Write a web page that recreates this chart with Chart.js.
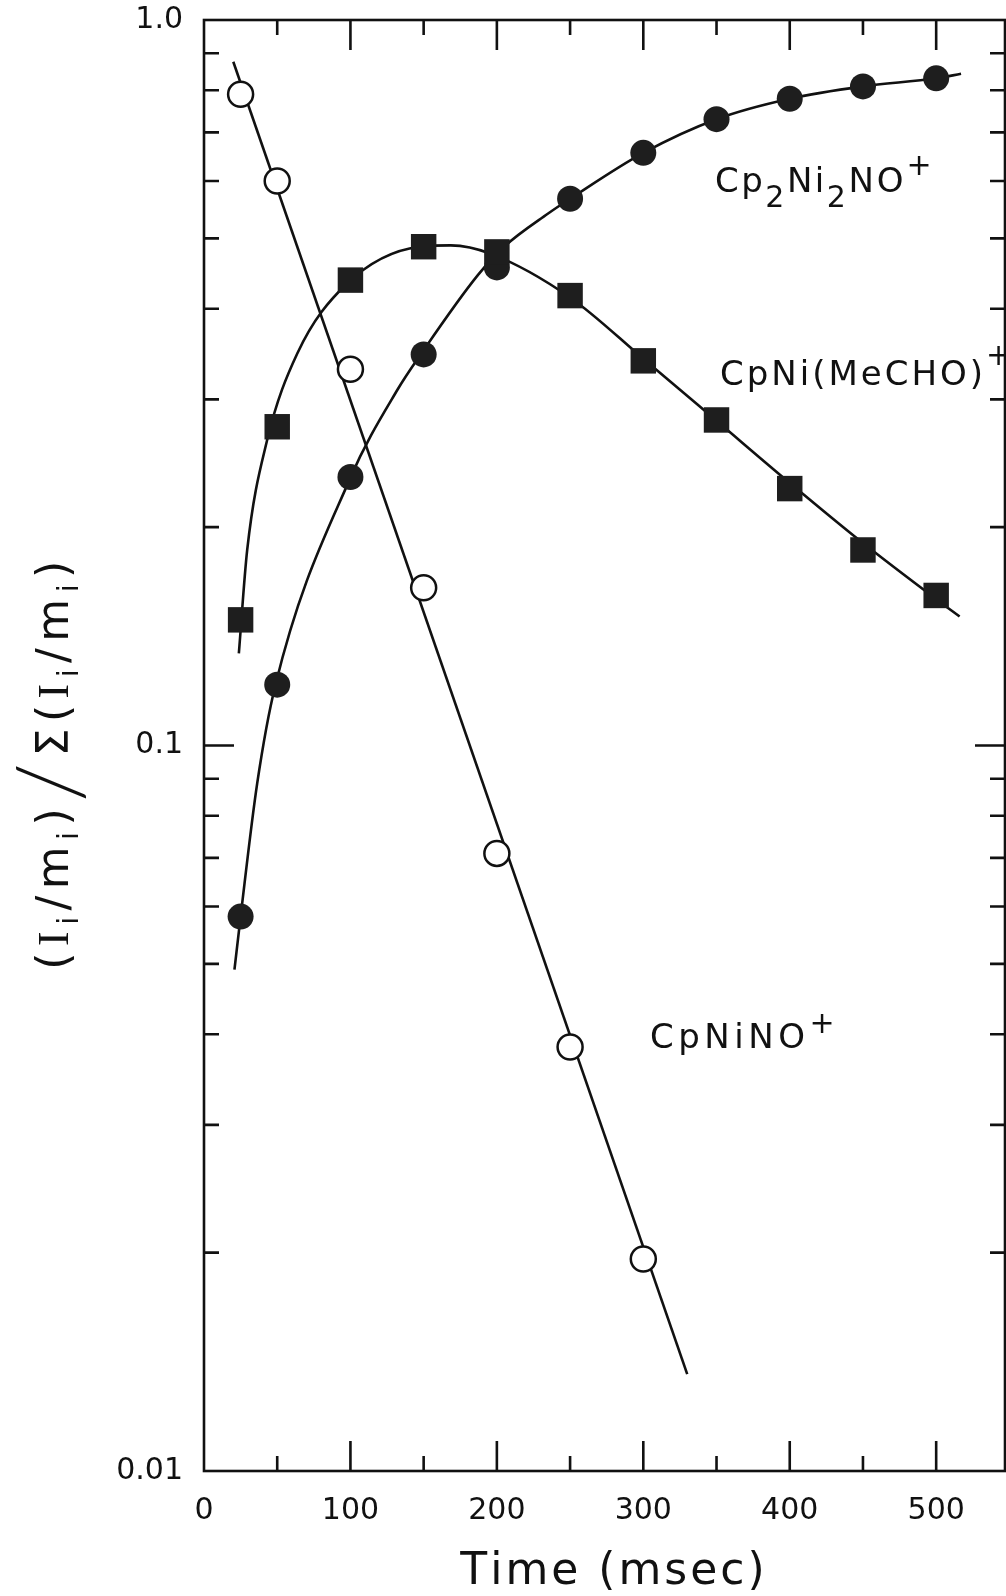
<!DOCTYPE html>
<html><head><meta charset="utf-8">
<script src="https://cdn.jsdelivr.net/npm/chart.js@4.4.1/dist/chart.umd.min.js"></script>
<style>html,body{margin:0;padding:0;background:#fff;overflow:hidden;}#wrap{width:1006px;height:1596px;}canvas{display:block;}</style>
</head><body><div id="wrap"><canvas id="c" width="1006" height="1596"></canvas></div>
<script>
// ---- data ----
const times = [25, 50, 100, 150, 200, 250, 300, 350, 400, 450, 500];
const cpNiNO    = [0.79, 0.600, 0.330, 0.165, 0.0710, 0.0384, 0.0196];           // open circles (t = 25..300)
const cpNiMeCHO = [0.149, 0.275, 0.438, 0.487, 0.479, 0.417, 0.339, 0.281, 0.226, 0.186, 0.161]; // squares
const cp2Ni2NO  = [0.0581, 0.1213, 0.2345, 0.346, 0.456, 0.567, 0.656, 0.730, 0.779, 0.810, 0.831]; // filled circles

// fitted curves as traced on the figure
const fitNiNO_t = [20, 330];
const fitNiNO_v = [0.876, 0.0136];
const fitMeCHO_t = [23.8, 29.5, 43, 63.7, 97, 147, 168.5, 196, 250, 300, 350, 400, 450, 500, 516];
const fitMeCHO_v = [0.134, 0.186, 0.263, 0.347, 0.432, 0.487, 0.489, 0.476, 0.4145, 0.3413, 0.2803, 0.2301, 0.1901, 0.1591, 0.1506];
const fitCp2_t = [20.8, 25, 36.3, 48.7, 100, 132, 148, 187, 205, 235, 250, 300, 350, 400, 450, 500, 517];
const fitCp2_v = [0.0491, 0.0581, 0.0886, 0.121, 0.234, 0.309, 0.346, 0.445, 0.487, 0.541, 0.567, 0.656, 0.730, 0.779, 0.810, 0.831, 0.843];

// axis ticks / labels
const xLabelValues = [0, 100, 200, 300, 400, 500];
const xTickMarks = [50, 100, 150, 200, 250, 300, 350, 400, 450, 500];
const yTickMarks = [0.02, 0.03, 0.04, 0.05, 0.06, 0.07, 0.08, 0.09, 0.1, 0.2, 0.3, 0.4, 0.5, 0.6, 0.7, 0.8, 0.9];
const yMajor = [0.1];
const yLabels = {1: '1.0', 0.1: '0.1', 0.01: '0.01'};

const pts = (xs, ys) => ys.map((v, i) => ({x: xs[i], y: v}));
const INK = '#111';
const FILL = '#1e1e1e';
const FONT = 'DejaVu Sans';

const frameTicks = {
  id: 'frameTicks',
  afterDatasetsDraw(chart) {
    const {ctx, chartArea: a, scales: {x, y}} = chart;
    ctx.save();
    ctx.strokeStyle = INK; ctx.lineWidth = 2.6;
    ctx.strokeRect(a.left, a.top, a.right - a.left, a.bottom - a.top);
    ctx.beginPath();
    xTickMarks.forEach(t => {
      const px = x.getPixelForValue(t);
      const len = (t % 100 === 0) ? 30 : 15;
      ctx.moveTo(px, a.bottom); ctx.lineTo(px, a.bottom - len);
      ctx.moveTo(px, a.top); ctx.lineTo(px, a.top + len);
    });
    yTickMarks.forEach(v => {
      const py = y.getPixelForValue(v);
      const len = yMajor.includes(v) ? 30 : 15;
      ctx.moveTo(a.left, py); ctx.lineTo(a.left + len, py);
      ctx.moveTo(a.right, py); ctx.lineTo(a.right - len, py);
    });
    ctx.stroke();
    ctx.restore();
  }
};

function runsWidth(ctx, runs) {
  let w = 0;
  runs.forEach(r => { ctx.font = r.f; for (const ch of r.t) w += ctx.measureText(ch).width + r.s; });
  return w;
}
function drawRuns(ctx, x, y, runs) {
  runs.forEach(r => {
    ctx.font = r.f;
    for (const ch of r.t) { ctx.fillText(ch, x, y + r.dy); x += ctx.measureText(ch).width + r.s; }
  });
}

const texts = {
  id: 'texts',
  afterDraw(chart) {
    const ctx = chart.ctx;
    ctx.save();
    ctx.fillStyle = INK; ctx.textAlign = 'left'; ctx.textBaseline = 'alphabetic';
    const M = '34px ' + FONT, S = '30px ' + FONT, P = '30px ' + FONT;
    drawRuns(ctx, 715, 192, [
      {t: 'Cp', f: M, dy: 0, s: 2.5}, {t: '2', f: S, dy: 15, s: 2.5}, {t: 'Ni', f: M, dy: 0, s: 2.5},
      {t: '2', f: S, dy: 15, s: 2.5}, {t: 'NO', f: M, dy: 0, s: 3}, {t: '+', f: P, dy: -17, s: 0}]);
    drawRuns(ctx, 720, 385, [{t: 'CpNi(MeCHO)', f: M, dy: 0, s: 3}, {t: '+', f: P, dy: -20, s: 0}]);
    drawRuns(ctx, 650, 1048, [{t: 'CpNiNO', f: M, dy: 0, s: 4.5}, {t: '+', f: P, dy: -15, s: 0}]);

    // x title
    const xr = [{t: 'Time (msec)', f: '44px ' + FONT, dy: 0, s: 3}];
    const xw = runsWidth(ctx, xr);
    drawRuns(ctx, 614 - xw / 2, 1584, xr);

    // y title, rotated
    const Mm = '44px ' + FONT, Ms = '44px "Liberation Serif"', Sb = '28px ' + FONT, Big = '300 90px Lato';
    const sp = 6.5;
    const grp = [
      {t: '(', f: Mm, dy: 0, s: sp}, {t: 'I', f: Ms, dy: 0, s: sp}, {t: 'i', f: Sb, dy: 10, s: sp},
      {t: '/', f: Mm, dy: 0, s: sp}, {t: 'm', f: Mm, dy: 0, s: sp}, {t: 'i', f: Sb, dy: 10, s: sp},
      {t: ')', f: Mm, dy: 0, s: sp}];
    const yr = [...grp, {t: '/', f: Big, dy: 14, s: sp}, {t: 'Σ', f: Mm, dy: 0, s: sp}, ...grp];
    const yw = runsWidth(ctx, yr);
    ctx.translate(68, 762 + yw / 2);
    ctx.rotate(-Math.PI / 2);
    drawRuns(ctx, 0, 0, yr);
    ctx.restore();
  }
};

new Chart(document.getElementById('c'), {
  type: 'scatter',
  data: {
    datasets: [
      {label: 'CpNiNO+', data: pts(times, cpNiNO), pointStyle: 'circle', pointRadius: 12.5,
       backgroundColor: '#fff', borderColor: INK, borderWidth: 2.5, showLine: false},
      {label: 'CpNi(MeCHO)+', data: pts(times, cpNiMeCHO), pointStyle: 'rect', pointRadius: 18,
       backgroundColor: FILL, borderColor: FILL, borderWidth: 0, showLine: false},
      {label: 'Cp2Ni2NO+', data: pts(times, cp2Ni2NO), pointStyle: 'circle', pointRadius: 13,
       backgroundColor: FILL, borderColor: FILL, borderWidth: 0, showLine: false},
      {label: 'fit CpNiNO+', data: pts(fitNiNO_t, fitNiNO_v), showLine: true, pointRadius: 0,
       borderColor: INK, borderWidth: 2.6, fill: false},
      {label: 'fit CpNi(MeCHO)+', data: pts(fitMeCHO_t, fitMeCHO_v), showLine: true, pointRadius: 0,
       borderColor: INK, borderWidth: 2.6, fill: false, cubicInterpolationMode: 'monotone'},
      {label: 'fit Cp2Ni2NO+', data: pts(fitCp2_t, fitCp2_v), showLine: true, pointRadius: 0,
       borderColor: INK, borderWidth: 2.6, fill: false, cubicInterpolationMode: 'monotone'}
    ]
  },
  options: {
    responsive: false, animation: false,
    layout: {autoPadding: false, padding: {top: 20, right: 1, left: 0, bottom: 0}},
    plugins: {legend: {display: false}, tooltip: {enabled: false}},
    events: [],
    scales: {
      x: {
        type: 'linear', min: 0, max: 547,
        afterFit(s) { s.height = 125; s.paddingLeft = 0; s.paddingRight = 0; s.paddingTop = 0; s.paddingBottom = 0; },
        grid: {display: false, drawTicks: false}, border: {display: false},
        ticks: {stepSize: 100, includeBounds: false, autoSkip: false, maxRotation: 0, padding: 22,
          color: INK, font: {family: FONT, size: 30},
          callback: v => xLabelValues.includes(v) ? String(v) : ''}
      },
      y: {
        type: 'logarithmic', min: 0.01, max: 1,
        afterFit(s) { s.width = 204; s.paddingLeft = 0; s.paddingRight = 0; s.paddingTop = 0; s.paddingBottom = 0; },
        grid: {display: false, drawTicks: false}, border: {display: false},
        ticks: {autoSkip: false, padding: 21, color: INK, font: {family: FONT, size: 30},
          callback: v => {
            const l = Math.log10(v);
            if (Math.abs(l - Math.round(l)) < 1e-9) return yLabels[Math.pow(10, Math.round(l))] || '';
            return '';
          }}
      }
    }
  },
  plugins: [frameTicks, texts]
});
</script>
</body></html>
